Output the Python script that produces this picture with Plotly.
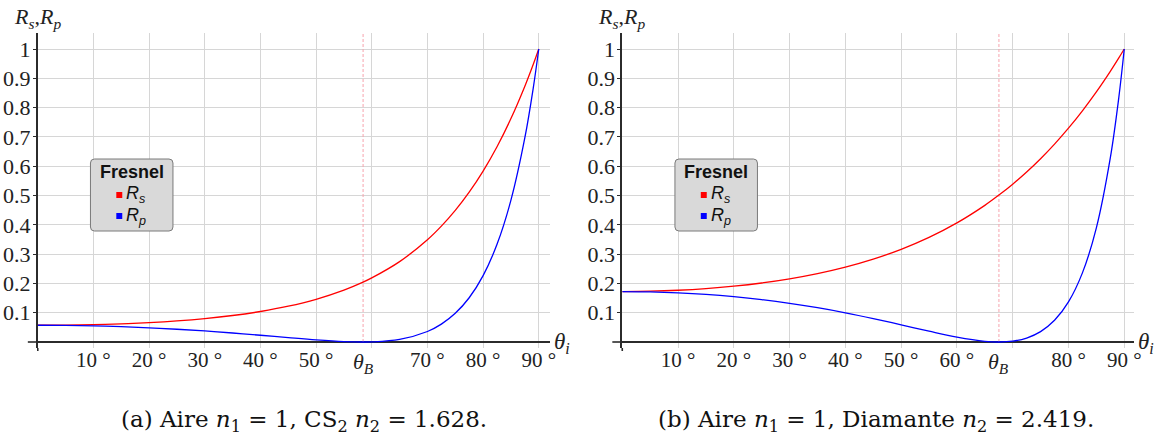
import plotly.graph_objects as go

W, H = 1173, 447

# Panel (a): air -> CS2
angles_a = [0, 5, 10, 15, 20, 25, 30, 35, 40, 45, 50, 55, 58.44,
            60, 65, 70, 72.5, 75, 77.5, 80, 82.5, 85, 87.5, 89, 90]
rs_a = [0.05710, 0.05764, 0.05928, 0.06213, 0.06634, 0.07218, 0.08003, 0.09042,
        0.10408, 0.12204, 0.14572, 0.17705, 0.20428, 0.21872, 0.27438, 0.34898,
        0.39537, 0.44910, 0.51132, 0.58331, 0.66650, 0.76249, 0.87303, 0.94711, 1.0]
rp_a = [0.05710, 0.05657, 0.05496, 0.05227, 0.04849, 0.04360, 0.03765, 0.03071,
        0.02299, 0.01490, 0.00724, 0.00150, 0.0, 0.00039, 0.00883, 0.03578,
        0.06093, 0.09785, 0.15099, 0.22657, 0.33339, 0.48411, 0.69717, 0.86583, 1.0]
brewster_a = 58.44

# Panel (b): air -> diamond
angles_b = [0, 5, 10, 15, 20, 25, 30, 35, 40, 45, 50, 55, 60, 65, 67.53,
            70, 72.5, 75, 77.5, 80, 82.5, 85, 87.5, 89, 90]
rs_b = [0.17225, 0.17334, 0.17664, 0.18227, 0.19041, 0.20136, 0.21550, 0.23334,
        0.25550, 0.28280, 0.31621, 0.35694, 0.40641, 0.46634, 0.50146, 0.53867,
        0.58019, 0.62566, 0.67542, 0.72977, 0.78907, 0.85365, 0.92385, 0.96881, 1.0]
rp_b = [0.17225, 0.17117, 0.16790, 0.16241, 0.15464, 0.14452, 0.13198, 0.11699,
        0.09959, 0.07997, 0.05867, 0.03678, 0.01656, 0.00238, 0.0, 0.00290,
        0.01354, 0.03551, 0.07402, 0.13687, 0.23592, 0.38965, 0.62830, 0.83062, 1.0]
brewster_b = 67.53

x_ticks = [10, 20, 30, 40, 50, 60, 70, 80, 90]
y_ticks = [0.1, 0.2, 0.3, 0.4, 0.5, 0.6, 0.7, 0.8, 0.9, 1.0]
y_tick_text = ["0.1", "0.2", "0.3", "0.4", "0.5", "0.6", "0.7", "0.8", "0.9", "1"]

captions = [
    "(a) Aire <i>n</i><sub>1</sub> = 1, CS<sub>2</sub> <i>n</i><sub>2</sub> = 1.628.",
    "(b) Aire <i>n</i><sub>1</sub> = 1, Diamante <i>n</i><sub>2</sub> = 2.419.",
]

RED = "#ff0000"
BLUE = "#0000ff"
GRID = "#d6d6d6"
AXIS = "#2b2b2b"
SERIF = "Liberation Serif"
CAPTION_FONT = "DejaVu Serif"
SANS = "Liberation Sans"


def px(x):
    return x / W


def py(y):
    return 1 - y / H


panels = [
    dict(ax="", x0=38, x1=553, deg=5.6, angles=angles_a, rs=rs_a, rp=rp_a,
         brewster=brewster_a, skip=60, caption=captions[0], cap_x=306),
    dict(ax="2", x0=626, x1=1141, deg=505 / 90, angles=angles_b, rs=rs_b, rp=rp_b,
         brewster=brewster_b, skip=70, caption=captions[1], cap_x=881),
]

Y_TOP, Y_BOT, Y_ZERO, Y_ONE = 33, 348, 342, 49
y_unit = Y_ZERO - Y_ONE
y_range = [-(Y_BOT - Y_ZERO) / y_unit, (Y_ZERO - Y_TOP) / y_unit]

fig = go.Figure()
shapes = []
annotations = []
layout = {}

for p in panels:
    xa = "x" + p["ax"]
    ya = "y" + p["ax"]
    x_range = [0, (p["x1"] - p["x0"]) / p["deg"]]

    fig.add_trace(go.Scatter(
        x=[p["brewster"], p["brewster"]], y=[0, y_range[1]], mode="lines",
        line=dict(color="#f7a3ad", width=1, dash="3px,2px"),
        xaxis=xa, yaxis=ya, showlegend=False, hoverinfo="skip"))
    fig.add_trace(go.Scatter(
        x=p["angles"], y=p["rs"], mode="lines", name="R_s",
        line=dict(color=RED, width=1.3, shape="spline"),
        xaxis=xa, yaxis=ya, showlegend=False))
    fig.add_trace(go.Scatter(
        x=p["angles"], y=p["rp"], mode="lines", name="R_p",
        line=dict(color=BLUE, width=1.3, shape="spline"),
        xaxis=xa, yaxis=ya, showlegend=False))

    x_text = ["" if v == p["skip"] else f"{v} °" for v in x_ticks]
    layout["xaxis" + p["ax"]] = dict(
        domain=[px(p["x0"]), px(p["x1"])], range=x_range, anchor=ya,
        tickvals=x_ticks, ticktext=x_text, showgrid=True, gridcolor=GRID,
        gridwidth=1, zeroline=False, showline=False, ticks="",
        ticklabelstandoff=-3,
        tickfont=dict(family=SERIF, size=21, color="#222"),
    )
    layout["yaxis" + p["ax"]] = dict(
        domain=[py(Y_BOT), py(Y_TOP)], range=y_range, anchor=xa,
        tickvals=y_ticks, ticktext=y_tick_text, showgrid=True, gridcolor=GRID,
        gridwidth=1, zeroline=True, zerolinecolor=AXIS, zerolinewidth=1.6,
        showline=True, linecolor=AXIS, linewidth=1.6, ticks="outside",
        ticklen=3, tickcolor=AXIS, ticklabelstandoff=-2,
        tickfont=dict(family=SERIF, size=22, color="#222"),
    )

    # short stub of the horizontal axis left of the origin
    shapes.append(dict(type="line", xref="paper", yref="paper",
                       x0=px(p["x0"] - 10), x1=px(p["x0"]),
                       y0=py(Y_ZERO), y1=py(Y_ZERO),
                       line=dict(color=AXIS, width=1.6)))
    # short stub of the vertical axis below the horizontal one
    shapes.append(dict(type="line", xref="paper", yref="paper",
                       x0=px(p["x0"]), x1=px(p["x0"]),
                       y0=py(Y_BOT), y1=py(Y_BOT + 3),
                       line=dict(color=AXIS, width=1.6)))

    # Brewster angle tick label
    annotations.append(dict(
        x=p["brewster"], xref=xa, y=py(Y_BOT - 1), yref="paper",
        text="<i>θ<sub>B</sub></i>", showarrow=False, xanchor="center",
        yanchor="top", font=dict(family=SERIF, size=22, color="#222")))

    # axis names
    annotations.append(dict(
        x=px(p["x0"] - 26), xref="paper", y=py(18), yref="paper",
        text="<i>R<sub>s</sub></i>,<i>R<sub>p</sub></i>", showarrow=False,
        xanchor="left", yanchor="middle",
        font=dict(family=SERIF, size=22, color="#222")))
    annotations.append(dict(
        x=px(p["x1"] + 2), xref="paper", y=py(Y_ZERO + 1), yref="paper",
        text="<i>θ<sub>i</sub></i>", showarrow=False,
        xanchor="left", yanchor="middle",
        font=dict(family=SERIF, size=23, color="#222")))

    # key box
    bx0, bx1, by0, by1, r = p["x0"] + 53, p["x0"] + 136, 159, 231, 4
    path = (f"M {px(bx0 + r)},{py(by0)} L {px(bx1 - r)},{py(by0)} "
            f"Q {px(bx1)},{py(by0)} {px(bx1)},{py(by0 + r)} "
            f"L {px(bx1)},{py(by1 - r)} Q {px(bx1)},{py(by1)} {px(bx1 - r)},{py(by1)} "
            f"L {px(bx0 + r)},{py(by1)} Q {px(bx0)},{py(by1)} {px(bx0)},{py(by1 - r)} "
            f"L {px(bx0)},{py(by0 + r)} Q {px(bx0)},{py(by0)} {px(bx0 + r)},{py(by0)} Z")
    shapes.append(dict(type="path", xref="paper", yref="paper", path=path,
                       fillcolor="#d9d9d9", line=dict(color="#7a7a7a", width=1),
                       layer="above"))
    annotations.append(dict(
        x=px((bx0 + bx1) / 2), xref="paper", y=py(172), yref="paper",
        text="<b>Fresnel</b>", showarrow=False, xanchor="center",
        yanchor="middle", font=dict(family=SANS, size=18, color="#111")))
    for color, label, cy in [(RED, "<i>R<sub>s</sub></i>", 195),
                             (BLUE, "<i>R<sub>p</sub></i>", 216)]:
        sx = p["x0"] + 79
        shapes.append(dict(type="rect", xref="paper", yref="paper",
                           x0=px(sx), x1=px(sx + 6), y0=py(cy - 3), y1=py(cy + 3),
                           fillcolor=color, line=dict(width=0), layer="above"))
        annotations.append(dict(
            x=px(sx + 8), xref="paper", y=py(cy), yref="paper",
            text=label, showarrow=False, xanchor="left", yanchor="middle",
            font=dict(family=SANS, size=18, color="#111")))

    # caption
    annotations.append(dict(
        x=px(p["cap_x"]), xref="paper", y=py(421), yref="paper",
        text=p["caption"], showarrow=False, xanchor="center", yanchor="middle",
        font=dict(family=CAPTION_FONT, size=23, color="#111")))

fig.update_layout(
    width=W, height=H, autosize=False,
    margin=dict(l=0, r=0, t=0, b=0),
    paper_bgcolor="white", plot_bgcolor="white",
    shapes=shapes, annotations=annotations, showlegend=False,
    **layout,
)

fig.write_html("out.html")
